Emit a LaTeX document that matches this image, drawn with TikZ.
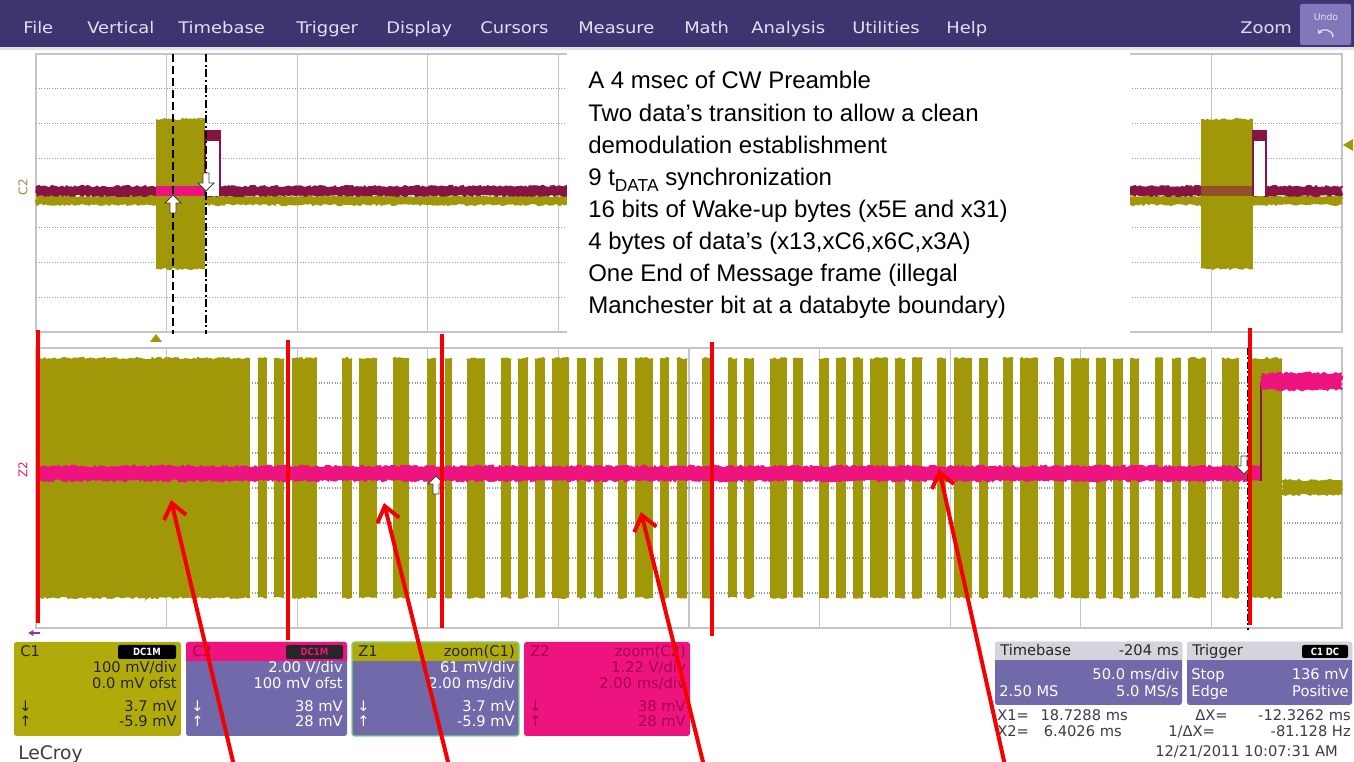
\documentclass[tikz,border=0pt]{standalone}
\usepackage{fontspec}
\usepackage{graphicx}
\setmainfont{Liberation Sans}
\newfontfamily\uifont{DejaVu Sans}
\usetikzlibrary{arrows.meta,decorations.pathmorphing}

\definecolor{menubar}{RGB}{62,52,112}
\definecolor{menutext}{RGB}{226,224,240}
\definecolor{undobtn}{RGB}{128,120,186}
\definecolor{trolive}{RGB}{160,152,8}
\definecolor{trpink}{RGB}{238,20,128}
\definecolor{trmaroon}{RGB}{136,20,68}
\definecolor{gridline}{RGB}{196,196,204}
\definecolor{gridtick}{RGB}{150,150,165}
\definecolor{panelpurple}{RGB}{112,106,170}
\definecolor{panelolive}{RGB}{176,170,10}
\definecolor{panelgray}{RGB}{212,212,220}
\definecolor{panelgreen}{RGB}{130,210,130}
\definecolor{pinktext}{RGB}{165,0,75}
\definecolor{markred}{RGB}{245,0,0}
\definecolor{labelbrown}{RGB}{190,120,60}
\definecolor{readout}{RGB}{60,60,70}

\tikzset{
  menuitem/.style={anchor=base west, inner sep=0, text=menutext,
    font=\uifont\fontsize{12}{12}\selectfont},
  infotext/.style={inner sep=0, font=\uifont\fontsize{11}{11}\selectfont},
  inforight/.style={infotext, anchor=base east},
  infoleft/.style={infotext, anchor=base west},
  tagtext/.style={inner sep=0, text=white, font=\uifont\bfseries\fontsize{7.5}{7.5}\selectfont},
  noteline/.style={anchor=base west, inner sep=0, font=\fontsize{18}{18}\selectfont},
  redmark/.style={markred, line width=3pt},
  redarrow/.style={markred, line width=3pt, -{Straight Barb[length=11pt,width=17pt]}},
  cursorarrow/.style={fill=white, draw=black!75, line width=0.6pt},
  gridframe/.style={gridline, line width=0.8pt},
  griddots/.style={gridtick, line width=0.8pt, dash pattern=on 0.8pt off 1.2pt},
  noisy/.style={decorate, decoration={random steps, segment length=1.6pt, amplitude=#1}},
  edgenoise/.style={trolive, line width=1.3pt, noisy=0.9pt},
}

% an RF burst: straight sides, ragged top and bottom envelope
\newcommand\rfburst[4]{%
  \fill[trolive] (#1,#3) rectangle (#2,#4);
  \draw[edgenoise] (#1,#3) -- (#2,#3);
  \draw[edgenoise] (#1,#4) -- (#2,#4);
}

\begin{document}
\begin{tikzpicture}[x=0.75pt,y=-0.75pt]
\pgfmathsetseed{4217}
\useasboundingbox (0,0) rectangle (1354,762);
\fill[white] (0,0) rectangle (1354,762);

% ---------------- menu bar ----------------
\fill[menubar] (0,0) rectangle (1354,47);
\fill[panelgray!70] (0,47) rectangle (1354,50);
\node[menuitem] (mFile)  at (23,34)  {\scalebox{1.12}[1]{File}};
\node[menuitem] (mVert)  at (87,34)  {\scalebox{1.12}[1]{Vertical}};
\node[menuitem] (mTime)  at (178,34) {\scalebox{1.12}[1]{Timebase}};
\node[menuitem] (mTrig)  at (296,34) {\scalebox{1.12}[1]{Trigger}};
\node[menuitem] (mDisp)  at (386,34) {\scalebox{1.12}[1]{Display}};
\node[menuitem] (mCurs)  at (480,34) {\scalebox{1.12}[1]{Cursors}};
\node[menuitem] (mMeas)  at (578,34) {\scalebox{1.12}[1]{Measure}};
\node[menuitem] (mMath)  at (684,34) {\scalebox{1.12}[1]{Math}};
\node[menuitem] (mAnal)  at (751,34) {\scalebox{1.12}[1]{Analysis}};
\node[menuitem] (mUtil)  at (852,34) {\scalebox{1.12}[1]{Utilities}};
\node[menuitem] (mHelp)  at (946,34) {\scalebox{1.12}[1]{Help}};
\node[menuitem] (mZoom)  at (1240,34) {\scalebox{1.12}[1]{Zoom}};
\fill[undobtn, rounded corners=1.5pt] (1300,4) rectangle (1351,45);
\node[inner sep=0, text=menutext, font=\uifont\fontsize{7}{7}\selectfont] (mUndo) at (1326,17) {Undo};
\draw[menutext, line width=1pt, -{Stealth[length=3pt,width=4pt]}]
  (1333,37) .. controls (1333,29) and (1322,28) .. (1318,34);

% ---------------- upper graticule (C1 / C2) ----------------
\draw[gridframe] (36,54) rectangle (1342,332);
\foreach \i in {1,...,9}
  \draw[gridframe] ({36+130.6*\i},54) -- ({36+130.6*\i},332);
\foreach \j in {1,...,7}
  \draw[griddots] (36,{54+34.75*\j}) -- (1342,{54+34.75*\j});

% baseline of both channels
\fill[trolive, noisy=0.9pt]  (36,196) rectangle (1342,205);
\fill[trmaroon, noisy=0.9pt] (36,186) rectangle (1342,196);

% first message: burst and decoded pulse
\rfburst{156}{205}{120}{268}
\fill[trpink]  (156,186) rectangle (205,196);
\fill[white]   (206,141) rectangle (219,196);
\fill[trmaroon] (205,130) rectangle (220,141);
\draw[trmaroon, line width=1pt] (205,196) -- (205,130) (220,130) -- (220,196);

% second message on the right
\rfburst{1201}{1253}{120}{268}
\fill[trmaroon, opacity=0.55] (1201,186) rectangle (1253,196);
\fill[white]   (1254,141) rectangle (1265,196);
\fill[trmaroon] (1253,130) rectangle (1266,141);
\draw[trmaroon, line width=1pt] (1253,196) -- (1253,130) (1266,130) -- (1266,196);

% cursors
\draw[black, line width=1.2pt, dash pattern=on 6pt off 3pt] (173,54) -- (173,334);
\draw[black, line width=1.2pt, dash pattern=on 6pt off 2pt on 1.5pt off 2pt] (206,54) -- (206,334);
\begin{scope}[shift={(173,195)}]
  \draw[cursorarrow] (0,0) -- (8,8) -- (3,8) -- (3,18) -- (-3,18) -- (-3,8) -- (-8,8) -- cycle;
\end{scope}
\begin{scope}[shift={(206,191)}]
  \draw[cursorarrow] (0,0) -- (8,-8) -- (3,-8) -- (3,-18) -- (-3,-18) -- (-3,-8) -- (-8,-8) -- cycle;
\end{scope}

% markers
\node[inner sep=0, text=labelbrown, rotate=90, font=\uifont\fontsize{9}{9}\selectfont] (lblC2) at (23,187) {C2};
\fill[trolive] (150,342) -- (156,334) -- (162,342) -- cycle;
\fill[trolive] (1343,145) -- (1353,139) -- (1353,151) -- cycle;

% ---------------- annotation panel ----------------
\fill[white] (567,50) rectangle (1130,334);
\node[noteline] (n1) at (588,89)  {A 4 msec of CW Preamble};
\node[noteline] (n2) at (588,122) {Two data’s transition to allow a clean};
\node[noteline] (n3) at (588,154) {demodulation establishment};
\node[noteline] (n4) at (588,186) {9 t\raisebox{-0.45ex}{\fontsize{13}{13}\selectfont DATA} synchronization};
\node[noteline] (n5) at (588,218) {16 bits of Wake-up bytes (x5E and x31)};
\node[noteline] (n6) at (588,250) {4 bytes of data’s (x13,xC6,x6C,x3A)};
\node[noteline] (n7) at (588,282) {One End of Message frame (illegal};
\node[noteline] (n8) at (588,314) {Manchester bit at a databyte boundary)};

% ---------------- lower graticule (Z1 / Z2) ----------------
\draw[gridframe] (36,348) rectangle (1342,628);
\foreach \i in {1,...,9}
  \draw[gridframe] ({36+130.6*\i},348) -- ({36+130.6*\i},628);
\foreach \j in {1,...,7}
  \draw[griddots] (36,{348+35*\j}) -- (1342,{348+35*\j});

% RF bursts of the zoomed carrier
\foreach \a/\b in {40/250, 258/267, 274/284, 292/317, 342/352, 359/377, 393/409,
    427/436, 445/452, 467/485, 501/511, 518/528, 535/545, 552/569, 577/586,
    594/603, 618/627, 635/653, 660/669, 677/687, 702/712, 728/737, 744/754,
    770/787, 793/803, 819/829, 836/846, 853/863, 870/888, 895/905, 912/922,
    937/946, 954/972, 979/988, 1003/1013, 1020/1038, 1054/1064, 1071/1089,
    1096/1106, 1113/1123, 1130/1139, 1155/1163, 1172/1181, 1188/1206,
    1222/1239, 1252/1282}
  {\rfburst{\a}{\b}{359}{597}}
\fill[trolive, noisy=1pt] (1282,480) rectangle (1342,495);

% demodulated data line
\fill[trpink, noisy=1.1pt] (38,466) rectangle (1261,481);
\draw[trmaroon, line width=1pt] (1261,481) -- (1261,381);
\fill[trpink, noisy=1.1pt] (1261,373) rectangle (1342,390);

% cursor
\draw[black, line width=1.2pt, dash pattern=on 5pt off 2pt on 1.5pt off 2pt] (1248,348) -- (1248,630);
\begin{scope}[shift={(436,476)}]
  \draw[cursorarrow] (0,0) -- (8,8) -- (3,8) -- (3,18) -- (-3,18) -- (-3,8) -- (-8,8) -- cycle;
\end{scope}
\begin{scope}[shift={(1244,474)}]
  \draw[cursorarrow] (0,0) -- (8,-8) -- (3,-8) -- (3,-18) -- (-3,-18) -- (-3,-8) -- (-8,-8) -- cycle;
\end{scope}
\node[inner sep=0, text=trpink, rotate=90, font=\uifont\fontsize{9}{9}\selectfont] (lblZ2) at (23,470) {Z2};
\draw[violet!80, line width=1pt, -{Latex[length=4pt,width=5pt]}] (40,633) -- (28,633);

% ---------------- channel readouts ----------------
% C1
\fill[panelolive, rounded corners=2pt] (14,642) rectangle (181,736);
\node[infoleft, text=black!85] (c1name) at (20,657) {C1};
\fill[black, rounded corners=1.5pt] (118,645) rectangle (176,659);
\node[tagtext] (c1tag) at (147,652) {\scalebox{0.85}[1]{DC1M}};
\node[inforight, text=black!85] (c1a) at (177,673) {100 mV/div};
\node[inforight, text=black!85] (c1b) at (177,689) {0.0 mV ofst};
\node[infoleft,  text=black!85] (c1c) at (19,711) {↓};
\node[inforight, text=black!85] (c1d) at (177,711) {3.7 mV};
\node[infoleft,  text=black!85] (c1e) at (19,727) {↑};
\node[inforight, text=black!85] (c1f) at (177,727) {-5.9 mV};

% C2
\fill[panelpurple, rounded corners=2pt] (186,642) rectangle (347,736);
\fill[trpink, rounded corners=2pt] (186,642) rectangle (347,661);
\fill[trpink] (186,652) rectangle (347,661);
\node[infoleft, text=pinktext] (c2name) at (192,657) {C2};
\fill[black!85, rounded corners=1.5pt] (286,645) rectangle (343,659);
\node[tagtext, text=trpink] (c2tag) at (314.5,652) {\scalebox{0.85}[1]{DC1M}};
\node[inforight, text=white] (c2a) at (343,673) {2.00 V/div};
\node[inforight, text=white] (c2b) at (343,689) {100 mV ofst};
\node[infoleft,  text=white] (c2c) at (191,711) {↓};
\node[inforight, text=white] (c2d) at (343,711) {38 mV};
\node[infoleft,  text=white] (c2e) at (191,727) {↑};
\node[inforight, text=white] (c2f) at (343,727) {28 mV};

% Z1
\fill[panelpurple, rounded corners=2pt] (352,642) rectangle (519,736);
\fill[panelolive, rounded corners=2pt] (352,642) rectangle (519,661);
\fill[panelolive] (352,652) rectangle (519,661);
\draw[panelgreen, line width=1pt, rounded corners=2pt] (352,642) rectangle (519,736);
\node[infoleft, text=black!85] (z1name) at (358,657) {Z1};
\node[inforight, text=black!85] (z1tag) at (515,657) {zoom(C1)};
\node[inforight, text=white] (z1a) at (515,673) {61 mV/div};
\node[inforight, text=white] (z1b) at (515,689) {2.00 ms/div};
\node[infoleft,  text=white] (z1c) at (357,711) {↓};
\node[inforight, text=white] (z1d) at (515,711) {3.7 mV};
\node[infoleft,  text=white] (z1e) at (357,727) {↑};
\node[inforight, text=white] (z1f) at (515,727) {-5.9 mV};

% Z2
\fill[trpink, rounded corners=2pt] (524,642) rectangle (690,736);
\node[infoleft, text=pinktext] (z2name) at (530,657) {Z2};
\node[inforight, text=pinktext] (z2tag) at (686,657) {zoom(C2)};
\node[inforight, text=pinktext] (z2a) at (686,673) {1.22 V/div};
\node[inforight, text=pinktext] (z2b) at (686,689) {2.00 ms/div};
\node[infoleft,  text=pinktext] (z2c) at (529,711) {↓};
\node[inforight, text=pinktext] (z2d) at (686,711) {38 mV};
\node[infoleft,  text=pinktext] (z2e) at (529,727) {↑};
\node[inforight, text=pinktext] (z2f) at (686,727) {28 mV};

% Timebase
\fill[panelpurple, rounded corners=2pt] (995,642) rectangle (1182,705);
\fill[panelgray, rounded corners=2pt] (995,642) rectangle (1182,660);
\fill[panelgray] (995,652) rectangle (1182,660);
\node[infoleft,  text=black!85] (tbname) at (1000,656) {Timebase};
\node[inforight, text=black!85] (tbpos)  at (1179,656) {-204 ms};
\node[inforight, text=white] (tba) at (1179,680) {50.0 ms/div};
\node[infoleft,  text=white] (tbb) at (999,696) {2.50 MS};
\node[inforight, text=white] (tbc) at (1179,696) {5.0 MS/s};

% Trigger
\fill[panelpurple, rounded corners=2pt] (1187,642) rectangle (1352,705);
\fill[panelgray, rounded corners=2pt] (1187,642) rectangle (1352,660);
\fill[panelgray] (1187,652) rectangle (1352,660);
\node[infoleft, text=black!85] (trname) at (1192,656) {Trigger};
\fill[black, rounded corners=1.5pt] (1302,645) rectangle (1348,658);
\node[tagtext] (trtag) at (1325,651.5) {\scalebox{0.85}[1]{C1 DC}};
\node[infoleft,  text=white] (tra) at (1191,680) {Stop};
\node[inforight, text=white] (trb) at (1349,680) {136 mV};
\node[infoleft,  text=white] (trc) at (1191,696) {Edge};
\node[inforight, text=white] (trd) at (1349,696) {Positive};

% cursor readout
\node[infoleft,  text=readout] (x1l) at (997,720)  {X1=};
\node[inforight, text=readout] (x1v) at (1128,720) {18.7288 ms};
\node[infoleft,  text=readout] (dxl) at (1195,720) {ΔX=};
\node[inforight, text=readout] (dxv) at (1351,720) {-12.3262 ms};
\node[infoleft,  text=readout] (x2l) at (997,737)  {X2=};
\node[inforight, text=readout] (x2v) at (1122,737) {6.4026 ms};
\node[infoleft,  text=readout] (ixl) at (1168,737) {1/ΔX=};
\node[inforight, text=readout] (ixv) at (1351,737) {-81.128 Hz};
\node[inforight, text=readout] (date) at (1338,757) {12/21/2011 10:07:31 AM};
\node[infoleft, text=readout, font=\uifont\fontsize{14}{14}\selectfont] (brand) at (18,759) {LeCroy};

% ---------------- frame boundaries ----------------
\draw[redmark] (38,330) -- (38,623);
\draw[redmark] (288,340) -- (288,640);
\draw[redmark] (442,334) -- (442,628);
\draw[redmark] (712,342) -- (712,636);
\draw[redmark] (1250,328) -- (1250,625);

% ---------------- pointers ----------------
\coordinate (pA) at (171,500);  \coordinate (tA) at (235,770);
\coordinate (pB) at (384,503);  \coordinate (tB) at (450,770);
\coordinate (pC) at (641,512);  \coordinate (tC) at (705,770);
\coordinate (pD) at (939,469);  \coordinate (tD) at (1006,770);
\draw[redarrow] (tA) -- (pA);
\draw[redarrow] (tB) -- (pB);
\draw[redarrow] (tC) -- (pC);
\draw[redarrow] (tD) -- (pD);
\end{tikzpicture}
\end{document}
